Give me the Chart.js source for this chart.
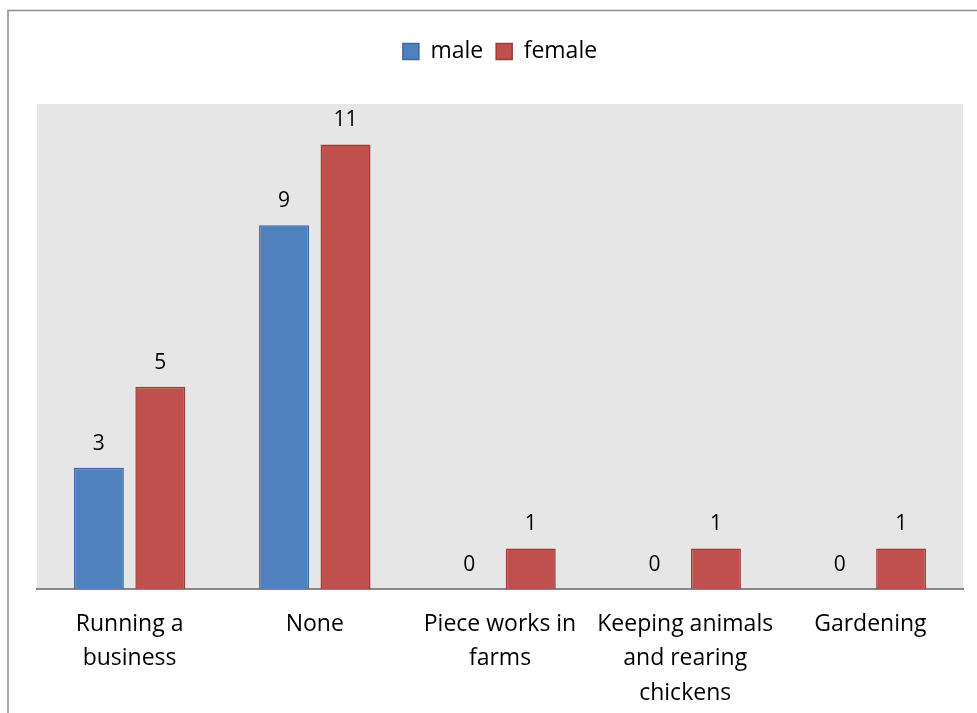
<!DOCTYPE html>
<html>
<head>
<meta charset="utf-8">
<script src="https://cdn.jsdelivr.net/npm/chart.js@4/dist/chart.umd.min.js"></script>
<style>
  html, body { margin: 0; padding: 0; background: #fff; }
  #wrap { position: relative; width: 977px; height: 713px; }
</style>
</head>
<body>
<div id="wrap"><canvas id="c" width="977" height="713"></canvas></div>
<script>
const categories = [
  ['Running a', 'business'],
  ['None'],
  ['Piece works in', 'farms'],
  ['Keeping animals', 'and rearing', 'chickens'],
  ['Gardening']
];
const seriesNames = ['male', 'female'];
const maleValues = [3, 9, 0, 0, 0];
const femaleValues = [5, 11, 1, 1, 1];

const FONT = '"Open Sans", "Liberation Sans", sans-serif';

// Grey plot background and the frame around the chart
const frame = {
  id: 'frame',
  beforeDraw(chart) {
    const { ctx, chartArea: a } = chart;
    ctx.save();
    ctx.fillStyle = '#ffffff';
    ctx.fillRect(0, 0, chart.width, chart.height);
    ctx.strokeStyle = '#8c8c8c';
    ctx.lineWidth = 1.5;
    ctx.strokeRect(8, 10.5, chart.width + 20, chart.height + 20);
    ctx.fillStyle = '#e6e6e6';
    ctx.fillRect(a.left, a.top, a.right - a.left, a.bottom - a.top);
    ctx.restore();
  }
};

// Value written above each bar
const valueLabels = {
  id: 'valueLabels',
  afterDatasetsDraw(chart) {
    const { ctx } = chart;
    ctx.save();
    ctx.font = '21px ' + FONT;
    ctx.fillStyle = '#000';
    ctx.textAlign = 'center';
    ctx.textBaseline = 'middle';
    chart.data.datasets.forEach((ds, i) => {
      chart.getDatasetMeta(i).data.forEach((bar, j) => {
        ctx.fillText(String(ds.data[j]), bar.x, bar.y - 24);
      });
    });
    ctx.restore();
  }
};

new Chart(document.getElementById('c'), {
  type: 'bar',
  data: {
    labels: categories,
    datasets: [
      {
        label: seriesNames[0],
        data: maleValues,
        backgroundColor: '#4f81bd',
        borderColor: '#3b6a9e',
        borderWidth: 1.5,
        borderSkipped: 'bottom'
      },
      {
        label: seriesNames[1],
        data: femaleValues,
        backgroundColor: '#c0504d',
        borderColor: '#9a3c3a',
        borderWidth: 1.5,
        borderSkipped: 'bottom'
      }
    ]
  },
  options: {
    responsive: false,
    animation: false,
    events: [],
    datasets: {
      bar: { categoryPercentage: 0.664, barPercentage: 0.813 }
    },
    layout: { padding: { left: 37, right: 14, top: 27, bottom: -16 } },
    plugins: {
      legend: {
        position: 'top',
        align: 'center',
        labels: {
          font: { family: FONT, size: 23 },
          color: '#000',
          boxWidth: 16,
          boxHeight: 16,
          padding: 13,
          useBorderRadius: false
        }
      },
      // empty spacer between the legend and the plot
      subtitle: {
        display: true,
        text: '',
        weight: 500,
        font: { size: 10, lineHeight: 1.2 },
        padding: { top: 0, bottom: 19 }
      },
      tooltip: { enabled: false }
    },
    scales: {
      y: {
        display: false,
        min: 0,
        max: 12
      },
      x: {
        grid: { display: false, drawTicks: false },
        border: { display: true, color: '#868686', width: 2 },
        ticks: {
          color: '#000',
          font: { family: FONT, size: 23, lineHeight: 1.48 },
          padding: 19,
          maxRotation: 0,
          autoSkip: false
        }
      }
    }
  },
  plugins: [frame, valueLabels]
});
</script>
</body>
</html>
